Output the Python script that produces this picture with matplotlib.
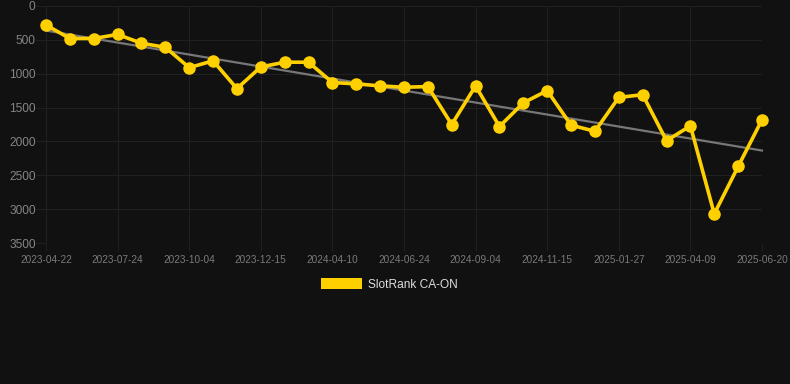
import matplotlib
matplotlib.use("Agg")
import matplotlib.pyplot as plt
import numpy as np

dates = ["2023-04-22", "", "", "2023-07-24", "", "", "2023-10-04", "", "",
         "2023-12-15", "", "", "2024-04-10", "", "", "2024-06-24", "", "",
         "2024-09-04", "", "", "2024-11-15", "", "", "2025-01-27", "", "",
         "2025-04-09", "", "", "2025-06-20"]
ranks = [280, 480, 480, 420, 550, 610, 910, 810, 1220, 900, 830, 830,
         1130, 1150, 1180, 1200, 1190, 1750, 1180, 1780, 1430, 1250,
         1760, 1850, 1350, 1310, 1990, 1770, 3070, 2370, 1680]
yticks = [0, 500, 1000, 1500, 2000, 2500, 3000, 3500]
series_name = "SlotRank CA-ON"

BG = "#111111"
GRID = "#202020"
YELLOW = "#FFD000"

fig = plt.figure(figsize=(7.9, 3.84), dpi=100, facecolor=BG)
W, H = 790, 384
ax = fig.add_axes([46 / W, 1 - 243 / H, (762 - 46) / W, (243 - 6) / H])
ax.set_facecolor(BG)

x = np.arange(len(ranks))
# trend line (linear regression)
coef = np.polyfit(x, ranks, 1)
ax.plot(x, np.polyval(coef, x), color="#777777", lw=1.6, zorder=2, clip_on=False)

ax.plot(x, ranks, color=YELLOW, lw=2.6, marker="o", markersize=8,
        zorder=3, clip_on=False, solid_joinstyle="round")

ax.set_xlim(0, len(ranks) - 1)
ax.set_ylim(3500, 0)
ax.set_yticks(yticks)
ax.set_yticklabels([str(v) for v in yticks])
lab_idx = [i for i, d in enumerate(dates) if d]
ax.set_xticks(lab_idx)
ax.set_xticklabels([dates[i] for i in lab_idx])

ax.grid(True, color=GRID, lw=0.8, zorder=0)
for s in ax.spines.values():
    s.set_visible(False)
ax.tick_params(axis="y", colors=GRID, length=7, width=0.8, pad=0.5,
               labelcolor="#858585", labelsize=8.6)
ax.tick_params(axis="x", colors=GRID, length=6, width=0.8, pad=2.5,
               labelcolor="#7a7a7a", labelsize=7.2)
for t in ax.get_xticklabels() + ax.get_yticklabels():
    t.set_fontfamily("Liberation Sans")

# legend
fig.patches.append(plt.Rectangle((321 / W, 1 - 289 / H), 41 / W, 11 / H,
                                 transform=fig.transFigure, facecolor=YELLOW,
                                 edgecolor="none"))
fig.text(368 / W, 1 - 284.5 / H, series_name, color="#dddddd",
         fontsize=8.6, fontfamily="Liberation Sans", va="center", ha="left")

fig.savefig("out.png", dpi=100, facecolor=BG)
